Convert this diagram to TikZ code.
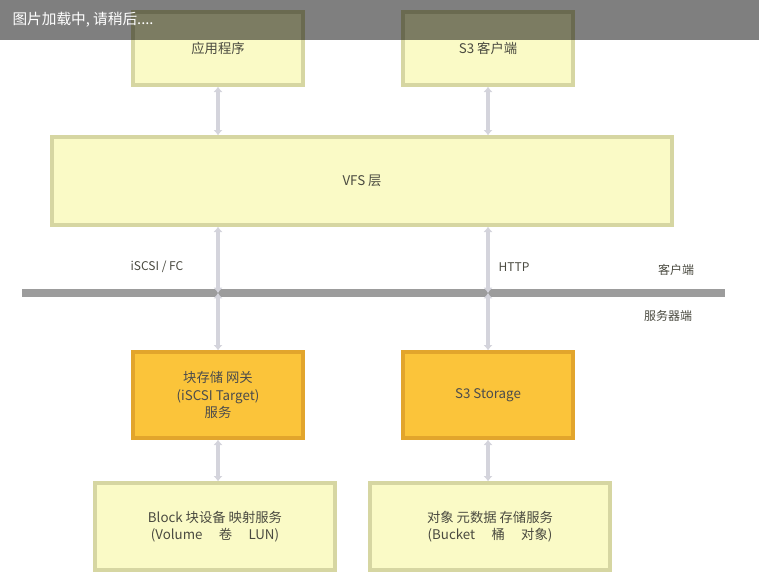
\documentclass[tikz,border=0pt]{standalone}
\usepackage{fontspec}
\newfontfamily\cjk{Noto Sans CJK SC}
\usetikzlibrary{arrows.meta}

\definecolor{paleyellow}{HTML}{FAFAC6}
\definecolor{paleedge}{HTML}{D6D6A2}
\definecolor{orangefill}{HTML}{FBC43A}
\definecolor{orangeedge}{HTML}{E2A52C}
\definecolor{darktext}{HTML}{4A4A40}
\definecolor{linkgray}{HTML}{D4D4DC}
\definecolor{busgray}{HTML}{9C9C9C}

\tikzset{every picture/.style={line width=0.75pt}}
\tikzset{
  palebox/.style={draw=paleedge, fill=paleyellow, line width=2.5pt, align=center,
    inner sep=2pt, text=darktext, font=\cjk\fontsize{10}{13}\selectfont},
  orangebox/.style={palebox, draw=orangeedge, fill=orangefill, text=black!70},
  link/.style={draw=linkgray, line width=3.5pt, {Latex[length=4pt,width=7pt]}-{Latex[length=4pt,width=7pt]}},
  bus/.style={draw=busgray, line width=6pt},
  lbl/.style={inner sep=0.75pt, text=darktext, font=\cjk\fontsize{9}{11}\selectfont}
}

\begin{document}
\begin{tikzpicture}[x=0.75pt,y=0.75pt,yscale=-1,xscale=1]
	\useasboundingbox (0,0) rectangle (759,587);

	%Shape: top boxes
	\node (appL) at (218,48.5) [palebox, minimum width=127.5pt, minimum height=54.75pt] {应用程序};
	\node (appR) at (488,48.5) [palebox, minimum width=127.5pt, minimum height=54.75pt] {S3 客户端};
	%Shape: wide box
	\node (vfs) at (362,181) [palebox, minimum width=465pt, minimum height=66pt] {VFS 层};

	%Shape: bus line
	\coordinate (busW) at (22,293);
	\coordinate (busE) at (725,293);
	\coordinate (busL) at (218,293);
	\coordinate (busR) at (488,293);
	\draw [bus] (busW) -- (busE);

	%Shape: orange boxes
	\node (gateL) at (218,395) [orangebox, minimum width=127.5pt, minimum height=64.5pt] {块存储 网关\\(iSCSI Target)\\服务};
	\node (gateR) at (488,395) [orangebox, minimum width=127.5pt, minimum height=64.5pt] {S3 Storage};
	%Shape: bottom boxes
	\node (poolL) at (215,526.5) [palebox, minimum width=180pt, minimum height=65.25pt] {Block 块设备 映射服务\\(Volume \quad 卷 \quad LUN)};
	\node (poolR) at (490,526.5) [palebox, minimum width=180pt, minimum height=65.25pt] {对象 元数据 存储服务\\(Bucket \quad 桶 \quad 对象)};

	%Connectors
	\draw [link] (appL) -- (vfs.north -| appL);
	\draw [link] (appR) -- (vfs.north -| appR);
	\draw [link] (vfs.south -| busL) -- (busL);
	\draw [link] (vfs.south -| busR) -- (busR);
	\draw [link] (busL) -- (gateL);
	\draw [link] (busR) -- (gateR);
	\draw [link] (gateL.south) -- (poolL.north -| gateL);
	\draw [link] (gateR.south) -- (poolR.north -| gateR);

	% Text Node
	\node (protoL) at (157,267) [lbl] {iSCSI / FC};
	% Text Node
	\node (protoR) at (514,267) [lbl] {HTTP};
	% Text Node
	\node (sideUp) at (676,270) [lbl] {客户端};
	% Text Node
	\node (sideDn) at (668,316) [lbl] {服务器端};

	%Shape: loading banner
	\fill [black, fill opacity=0.5] (0,0) rectangle (759,40);
	\node (banner) at (12,20) [anchor=west, inner sep=0pt, text=white, font=\cjk\fontsize{11}{13}\selectfont] {图片加载中, 请稍后....};

\end{tikzpicture}
\end{document}
